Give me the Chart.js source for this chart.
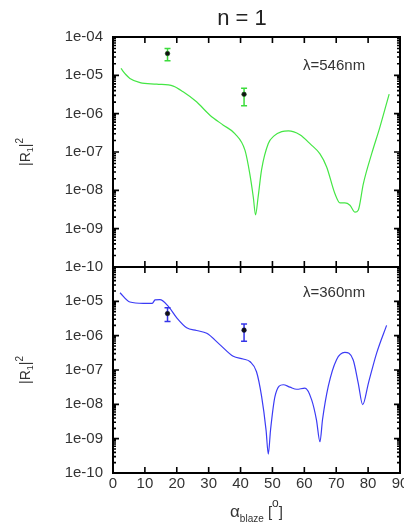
<!DOCTYPE html>
<html>
<head>
<meta charset="utf-8">
<script src="https://cdn.jsdelivr.net/npm/chart.js@4.4.1/dist/chart.umd.min.js"></script>
<style>
  body { margin: 0; background: #fff; overflow: hidden; width: 404px; height: 525px; position: relative; }
  .panel { position: absolute; left: 0; width: 420px; }
  #top { top: 0; height: 286px; }
  #bottom { top: 248px; height: 277px; }
</style>
</head>
<body>
<div class="panel" id="top"><canvas id="c546"></canvas></div>
<div class="panel" id="bottom"><canvas id="c360"></canvas></div>
<script>
const FONT = '"Liberation Sans", Arial, sans-serif';
const TEXT = '#333';

// computed |R1|^2 vs blaze angle, 546 nm
const angle546 = [2.5, 4, 5.3, 8.5, 13.7, 18.9, 22, 26.2, 30.4, 34.6, 38.2, 41.4, 42.9, 44, 44.7, 45.5,
  46.6, 48.7, 50.5, 52.9, 55, 58.6, 62, 64.9, 67, 69.6, 71.2, 72.7, 74.3, 75.9, 76.9, 78.5, 81.1, 83.7, 86.6];
const r546 = [1.51e-5, 1.05e-5, 8.32e-6, 6.46e-6, 5.89e-6, 5.25e-6, 3.72e-6, 2.04e-6, 9.12e-7, 5.01e-7,
  3.02e-7, 1.10e-7, 2.69e-8, 6.61e-9, 2.29e-9, 6.61e-9, 3.47e-8, 1.66e-7, 2.63e-7, 3.39e-7, 3.55e-7,
  2.82e-7, 1.58e-7, 8.91e-8, 4.07e-8, 8.13e-9, 4.68e-9, 4.68e-9, 4.07e-9, 2.69e-9, 3.02e-9, 1.48e-8,
  8.91e-8, 4.47e-7, 3.24e-6];

// computed |R1|^2 vs blaze angle, 360 nm
const angle360 = [2.2, 5.3, 9.5, 12.3, 13.2, 14.7, 17.3, 20, 23.1, 26.2, 29.4, 33.5, 37.7, 40.8, 43, 45,
  46.6, 48, 48.7, 49.4, 50.8, 53.4, 55.5, 57.6, 60.2, 62.3, 63.8, 64.9, 65.7, 67.5, 70.1, 72.7, 75.3,
  76.9, 78.3, 80.1, 82.7, 85.8];
const r360 = [1.78e-5, 9.55e-6, 8.71e-6, 8.71e-6, 1.10e-5, 1.12e-5, 7.24e-6, 3.31e-6, 1.70e-6, 1.41e-6,
  1.17e-6, 5.50e-7, 2.51e-7, 2.09e-7, 1.74e-7, 8.91e-8, 1.70e-8, 1.78e-9, 3.55e-10, 1.78e-9, 1.70e-8,
  3.72e-8, 3.16e-8, 2.75e-8, 2.95e-8, 1.35e-8, 3.55e-9, 8.13e-10, 3.55e-9, 3.31e-8, 2.00e-7, 3.24e-7,
  2.00e-7, 4.17e-8, 9.77e-9, 4.17e-8, 3.16e-7, 2.00e-6];

// measured points with error bars
const measAngle = [17.1, 41.1];
const meas546 = [3.7e-5, 3.2e-6];
const meas546Low = [2.4e-5, 1.6e-6];
const meas546High = [5.0e-5, 4.6e-6];
const meas360 = [4.4e-6, 1.45e-6];
const meas360Low = [2.6e-6, 6.9e-7];
const meas360High = [6.5e-6, 2.2e-6];

const xTicks = [0, 10, 20, 30, 40, 50, 60, 70, 80, 90];
const yTicks = [1e-10, 1e-9, 1e-8, 1e-7, 1e-6, 1e-5, 1e-4];

function expLabel(v) {
  const e = Math.round(Math.log10(v));
  return '1e' + (e < 0 ? '-' : '+') + String(Math.abs(e)).padStart(2, '0');
}

function toPoints(xs, ys) {
  return xs.map((x, i) => ({ x: x, y: ys[i] }));
}

// text pieces: [string, size, baseline shift]
function drawRich(ctx, parts, cx, baseY) {
  let w = 0;
  parts.forEach(p => { ctx.font = p[1] + 'px ' + FONT; w += ctx.measureText(p[0]).width; });
  let x = cx - w / 2;
  ctx.textAlign = 'left';
  ctx.textBaseline = 'alphabetic';
  parts.forEach(p => {
    ctx.font = p[1] + 'px ' + FONT;
    ctx.fillText(p[0], x, baseY + (p[2] || 0));
    x += ctx.measureText(p[0]).width;
  });
}

// inward ticks on all four sides plus the frame
const frameTicks = {
  id: 'frameTicks',
  afterDatasetsDraw(chart) {
    const { ctx, chartArea: a, scales: { x, y } } = chart;
    ctx.save();
    ctx.strokeStyle = '#000';
    ctx.lineWidth = 1.6;
    ctx.beginPath();
    xTicks.forEach(v => {
      const px = x.getPixelForValue(v);
      ctx.moveTo(px, a.top); ctx.lineTo(px, a.top + 6);
      ctx.moveTo(px, a.bottom); ctx.lineTo(px, a.bottom - 6);
    });
    yTicks.forEach(v => {
      const py = y.getPixelForValue(v);
      ctx.moveTo(a.left, py); ctx.lineTo(a.left + 6, py);
      ctx.moveTo(a.right, py); ctx.lineTo(a.right - 6, py);
      for (let m = 2; m <= 9; m++) {
        if (v * m > y.max) break;
        const pm = y.getPixelForValue(v * m);
        ctx.moveTo(a.left, pm); ctx.lineTo(a.left + 3, pm);
        ctx.moveTo(a.right, pm); ctx.lineTo(a.right - 3, pm);
      }
    });
    ctx.stroke();
    ctx.lineWidth = 2;
    ctx.strokeRect(a.left, a.top, a.right - a.left, a.bottom - a.top);
    ctx.restore();
  }
};

// vertical error bars, drawn after the curve and before the dots
const errorBars = {
  id: 'errorBars',
  afterDatasetDraw(chart, args, opts) {
    if (args.index !== 1) return;
    const { ctx, scales: { x, y } } = chart;
    ctx.save();
    ctx.strokeStyle = opts.color;
    ctx.lineWidth = 1.5;
    ctx.beginPath();
    opts.x.forEach((v, i) => {
      const px = x.getPixelForValue(v);
      const lo = y.getPixelForValue(opts.low[i]);
      const hi = y.getPixelForValue(opts.high[i]);
      ctx.moveTo(px, lo); ctx.lineTo(px, hi);
      ctx.moveTo(px - 3, lo); ctx.lineTo(px + 3, lo);
      ctx.moveTo(px - 3, hi); ctx.lineTo(px + 3, hi);
    });
    ctx.stroke();
    ctx.restore();
  }
};

// panel texts: wavelength, axis titles, heading
const panelText = {
  id: 'panelText',
  afterDraw(chart, args, opts) {
    const { ctx, chartArea: a } = chart;
    ctx.save();
    ctx.fillStyle = TEXT;
    ctx.font = '15px ' + FONT;
    ctx.textAlign = 'left';
    ctx.textBaseline = 'alphabetic';
    ctx.fillText(opts.lambda, a.left + 190, a.top + opts.lambdaDy);

    ctx.save();
    ctx.translate(30, (a.top + a.bottom) / 2);
    ctx.rotate(-Math.PI / 2);
    drawRich(ctx, [['|R', 14], ['1', 9, 3], ['|', 14], ['2', 10, -7]], 0, 0);
    ctx.restore();

    if (opts.heading) {
      ctx.fillStyle = '#222';
      ctx.font = '22px ' + FONT;
      ctx.textAlign = 'center';
      ctx.fillText(opts.heading, 242, 25);
    }
    if (opts.xTitle) {
      ctx.fillStyle = TEXT;
      drawRich(ctx, [['α', 17], ['blaze', 10, 5], [' [', 15], ['o', 12, -10], [']', 15]],
        (a.left + a.right) / 2, a.bottom + 44);
    }
    ctx.restore();
  }
};

function makePanel(id, o) {
  return new Chart(document.getElementById(id), {
    data: {
      datasets: [
        {
          type: 'scatter',
          data: toPoints(measAngle, o.meas),
          pointRadius: 2.3,
          pointBackgroundColor: '#111',
          pointBorderColor: o.dotEdge,
          pointBorderWidth: 0.6
        },
        {
          type: 'line',
          data: toPoints(o.angle, o.values),
          borderColor: o.color,
          borderWidth: 1.2,
          pointRadius: 0,
          tension: 0.4,
          cubicInterpolationMode: 'monotone'
        }
      ]
    },
    options: {
      responsive: true,
      maintainAspectRatio: false,
      animation: false,
      layout: { padding: o.padding },
      plugins: {
        legend: { display: false },
        tooltip: { enabled: false },
        errorBars: { x: measAngle, low: o.low, high: o.high, color: o.barColor },
        panelText: { lambda: o.lambda, lambdaDy: o.lambdaDy, heading: o.heading, xTitle: o.xTitle }
      },
      scales: {
        x: {
          type: 'linear',
          min: 0,
          max: 90,
          display: o.xTitle,
          afterFit(s) { if (o.xTitle) s.height = 52; },
          afterBuildTicks(s) { s.ticks = xTicks.map(v => ({ value: v })); },
          grid: { display: false, drawTicks: false },
          border: { display: false },
          ticks: { color: TEXT, font: { family: FONT, size: 15 }, padding: 2, maxRotation: 0, autoSkip: false }
        },
        y: {
          type: 'logarithmic',
          min: 1e-10,
          max: 1e-4,
          afterFit(s) { s.width = 113; },
          afterBuildTicks(s) { s.ticks = yTicks.map(v => ({ value: v })); },
          grid: { display: false, drawTicks: false },
          border: { display: false },
          ticks: {
            color: TEXT,
            font: { family: FONT, size: 15 },
            padding: 10,
            autoSkip: false,
            callback: v => (o.hideTop && v >= 1e-4) ? '' : expLabel(v)
          }
        }
      }
    },
    plugins: [frameTicks, errorBars, panelText]
  });
}

makePanel('c546', {
  angle: angle546, values: r546, meas: meas546, low: meas546Low, high: meas546High,
  color: '#44e644', barColor: '#3cdc3c', dotEdge: '#1a5a1a',
  lambda: 'λ=546nm', lambdaDy: 33, heading: 'n = 1', xTitle: false, hideTop: false,
  padding: { top: 37, bottom: 19, left: 0, right: 20 }
});

makePanel('c360', {
  angle: angle360, values: r360, meas: meas360, low: meas360Low, high: meas360High,
  color: '#3b3bf5', barColor: '#3434e8', dotEdge: '#101050',
  lambda: 'λ=360nm', lambdaDy: 30, heading: null, xTitle: true, hideTop: true,
  padding: { top: 19, bottom: 0, left: 0, right: 20 }
});
</script>
</body>
</html>
